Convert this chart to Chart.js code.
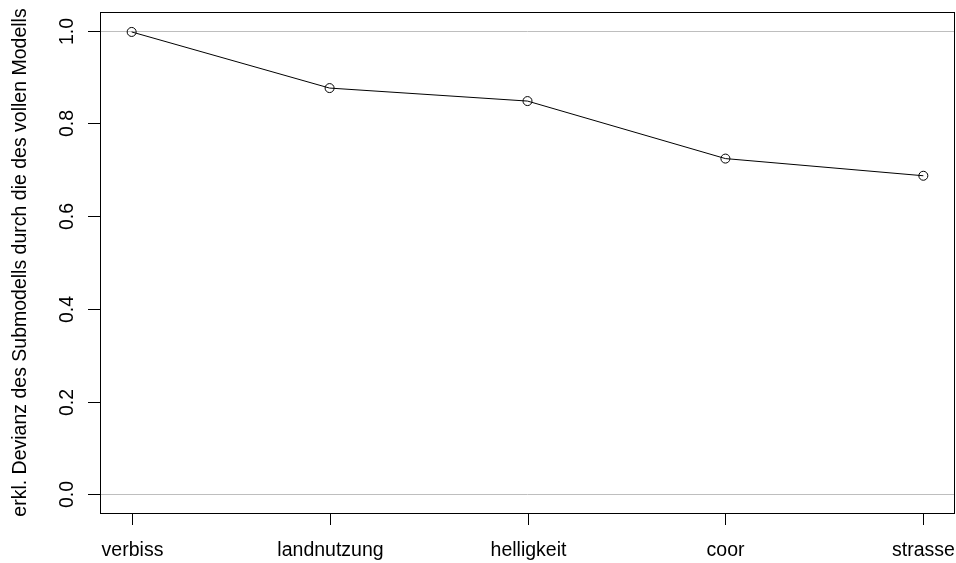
<!DOCTYPE html>
<html>
<head>
<meta charset="utf-8">
<script src="https://cdn.jsdelivr.net/npm/chart.js@4/dist/chart.umd.min.js"></script>
<style>
html,body{margin:0;padding:0;background:#fff;}
#wrap{width:956px;height:563px;position:relative;}
</style>
</head>
<body>
<div id="wrap"><canvas id="c" width="956" height="563"></canvas></div>
<script>
const categories = ["verbiss", "landnutzung", "helligkeit", "coor", "strasse"];
const values = [0.997, 0.876, 0.848, 0.724, 0.687];
const yTicks = [0, 0.2, 0.4, 0.6, 0.8, 1.0];
const yTickLabels = ["0.0", "0.2", "0.4", "0.6", "0.8", "1.0"];
const refLines = [0, 1];
const yTitle = "erkl. Devianz des Submodells durch die des vollen Modells";

const FONT = '"Liberation Sans", Arial, Helvetica, sans-serif';
const FS = 19.5;

const rAxes = {
  id: 'rAxes',
  beforeDatasetsDraw(chart) {
    const ctx = chart.ctx, a = chart.chartArea, ys = chart.scales.y;
    ctx.save();
    ctx.strokeStyle = '#bebebe';
    ctx.lineWidth = 1;
    refLines.forEach(v => {
      const py = Math.round(ys.getPixelForValue(v)) + 0.5;
      ctx.beginPath(); ctx.moveTo(a.left, py); ctx.lineTo(a.right, py); ctx.stroke();
    });
    ctx.restore();
  },
  afterDraw(chart) {
    const ctx = chart.ctx, a = chart.chartArea, xs = chart.scales.x, ys = chart.scales.y;
    ctx.save();
    ctx.strokeStyle = '#000';
    ctx.lineWidth = 1;
    ctx.strokeRect(a.left + 0.5, a.top + 0.5, a.right - a.left - 1, a.bottom - a.top);
    ctx.fillStyle = '#000';
    ctx.font = FS + 'px ' + FONT;
    // x ticks
    ctx.textAlign = 'center';
    ctx.textBaseline = 'alphabetic';
    categories.forEach((c, i) => {
      const px = Math.round(xs.getPixelForValue(i + 1)) + 0.5;
      ctx.beginPath(); ctx.moveTo(px, a.bottom); ctx.lineTo(px, a.bottom + 12); ctx.stroke();
      ctx.fillText(c, px, 556);
    });
    // y ticks
    yTicks.forEach((v, i) => {
      const py = Math.round(ys.getPixelForValue(v)) + 0.5;
      ctx.beginPath(); ctx.moveTo(a.left - 12, py); ctx.lineTo(a.left, py); ctx.stroke();
      ctx.save();
      ctx.translate(73, py);
      ctx.rotate(-Math.PI / 2);
      ctx.textAlign = 'center';
      ctx.textBaseline = 'alphabetic';
      ctx.fillText(yTickLabels[i], 0, 0);
      ctx.restore();
    });
    // y title
    ctx.save();
    ctx.translate(26, (a.top + a.bottom) / 2);
    ctx.rotate(-Math.PI / 2);
    ctx.textAlign = 'center';
    ctx.textBaseline = 'alphabetic';
    ctx.fillText(yTitle, 0, 0);
    ctx.restore();
    ctx.restore();
  }
};

new Chart(document.getElementById('c'), {
  type: 'line',
  data: {
    datasets: [{
      data: values.map((v, i) => ({x: i + 1, y: v})),
      borderColor: '#000',
      borderWidth: 1,
      pointRadius: 4.5,
      pointBorderColor: '#000',
      pointBackgroundColor: 'rgba(0,0,0,0)',
      pointBorderWidth: 1,
      tension: 0,
      fill: false,
      clip: false
    }]
  },
  options: {
    responsive: false,
    animation: false,
    events: [],
    layout: {autoPadding: false, padding: {left: 100, top: 12, right: 1, bottom: 50}},
    plugins: {legend: {display: false}, tooltip: {enabled: false}},
    scales: {
      x: {type: 'linear', min: 0.84, max: 5.16, display: false},
      y: {type: 'linear', min: -0.04, max: 1.04, display: false}
    }
  },
  plugins: [rAxes]
});
</script>
</body>
</html>
